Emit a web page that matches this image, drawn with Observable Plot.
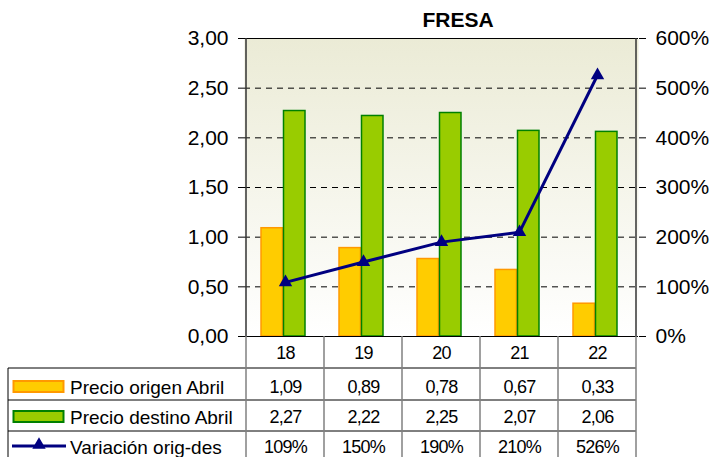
<!DOCTYPE html>
<html>
<head>
<meta charset="utf-8">
<script src="https://cdn.jsdelivr.net/npm/d3@7"></script>
<script src="https://cdn.jsdelivr.net/npm/@observablehq/plot@0.6"></script>
<style>
  html, body { margin: 0; padding: 0; background: white; }
  #chart { width: 713px; height: 457px; overflow: hidden; }
</style>
</head>
<body>
<div id="chart"></div>
<script>
const title = "FRESA";
const categories = ["18", "19", "20", "21", "22"];
const precioOrigen = [1.09, 0.89, 0.78, 0.67, 0.33];
const precioDestino = [2.27, 2.22, 2.25, 2.07, 2.06];
const variacion = [109, 150, 190, 210, 526];
const leftTicks = [0, 0.5, 1, 1.5, 2, 2.5, 3];
const rightTickLabels = [0, 100, 200, 300, 400, 500, 600];
const seriesNames = ["Precio origen Abril", "Precio destino Abril", "Variación orig-des"];

const data = categories.map((c, i) => ({cat: c, origen: precioOrigen[i], destino: precioDestino[i], variacion: variacion[i]}));
const fmt2 = v => d3.format(".2f")(v).replace(".", ",");
const pctToY = p => p / 200;

const FONT = "'Liberation Sans', Arial, sans-serif";
const orangeFill = "#FFCC00", orangeStroke = "#FF9900";
const greenFill = "#99CC00", greenStroke = "#008000";
const navy = "#000080";

const plot = Plot.plot({
  width: 713,
  height: 457,
  marginTop: 38,
  marginBottom: 121,
  marginLeft: 244,
  marginRight: 75,
  x: {domain: categories, padding: 0, axis: null},
  y: {domain: [0, 3], axis: null},
  style: {fontFamily: FONT, fontSize: "21px", background: "white", overflow: "visible", color: "black"},
  marks: [
    Plot.frame({fill: "url(#bgGrad)", stroke: null}),
    Plot.ruleY(leftTicks.filter(t => t > 0 && t < 3), {stroke: "black", strokeWidth: 1, strokeDasharray: "6,5"}),
    Plot.ruleY([3], {stroke: "black", strokeWidth: 1}),
    Plot.barY(data, {x: "cat", y: "origen", fill: orangeFill, stroke: orangeStroke, strokeWidth: 1.5, insetLeft: 15, insetRight: 41.5}),
    Plot.barY(data, {x: "cat", y: "destino", fill: greenFill, stroke: greenStroke, strokeWidth: 1.5, insetLeft: 37.5, insetRight: 19}),
    Plot.ruleY([0], {stroke: "black", strokeWidth: 1}),
    Plot.line(data, {x: "cat", y: d => pctToY(d.variacion), stroke: navy, strokeWidth: 3}),
    Plot.dot(data, {x: "cat", y: d => pctToY(d.variacion), symbol: "triangle", fill: navy, stroke: null, r: 5}),
    Plot.axisY(leftTicks, {anchor: "left", tickSize: 6, tickPadding: 10, tickFormat: fmt2, fontSize: 21}),
    Plot.axisY(rightTickLabels.map(pctToY), {anchor: "right", tickSize: 7, tickPadding: 10, tickFormat: d => Math.round(d * 200) + "%", fontSize: 21}),
    // table: category header row and value rows
    Plot.text(data, {x: "cat", y: 0, text: "cat", dy: 17, fontSize: 18, fontFamily: FONT, fill: "black"}),
    Plot.text(data, {x: "cat", y: 0, text: d => fmt2(d.origen), dy: 51, fontSize: 18, fontFamily: FONT, fill: "black"}),
    Plot.text(data, {x: "cat", y: 0, text: d => fmt2(d.destino), dy: 81, fontSize: 18, fontFamily: FONT, fill: "black"}),
    Plot.text(data, {x: "cat", y: 0, text: d => d.variacion + "%", dy: 111, fontSize: 18, fontFamily: FONT, fill: "black"})
  ]
});

document.getElementById("chart").appendChild(plot);

const svg = d3.select(plot);
const defs = svg.insert("defs", ":first-child");
const grad = defs.append("linearGradient").attr("id", "bgGrad").attr("x1", 0).attr("y1", 0).attr("x2", 0).attr("y2", 1);
grad.append("stop").attr("offset", "0%").attr("stop-color", "#EBEBD6");
grad.append("stop").attr("offset", "100%").attr("stop-color", "#FFFFFF");

svg.selectAll("g[aria-label='text'] text").attr("letter-spacing", "-0.8");

const xs = plot.scale("x");
const ys = plot.scale("y");
const bw = xs.bandwidth;
const x0 = xs.apply(categories[0]);
const xEnd = xs.apply(categories[categories.length - 1]) + bw;
const yTop = ys.apply(3);
const yBase = ys.apply(0);
const H = 457;

const g = svg.append("g").attr("aria-label", "table").attr("text-anchor", "start");
// axis lines
g.append("line").attr("x1", x0).attr("x2", x0).attr("y1", yTop).attr("y2", yBase).attr("stroke", "#333").attr("stroke-width", 1.5);
g.append("line").attr("x1", xEnd).attr("x2", xEnd).attr("y1", yTop).attr("y2", yBase).attr("stroke", "#333").attr("stroke-width", 1.5);
// table horizontal lines
[32, 64, 95].forEach(off => {
  g.append("line").attr("x1", 8).attr("x2", xEnd).attr("y1", yBase + off).attr("y2", yBase + off).attr("stroke", "black").attr("stroke-width", 1);
});
// column separators
categories.forEach(c => {
  const xx = xs.apply(c);
  g.append("line").attr("x1", xx).attr("x2", xx).attr("y1", yBase).attr("y2", H).attr("stroke", "#808080").attr("stroke-width", 1.5);
});
g.append("line").attr("x1", xEnd).attr("x2", xEnd).attr("y1", yBase).attr("y2", H).attr("stroke", "#808080").attr("stroke-width", 1.5);
g.append("line").attr("x1", 8).attr("x2", 8).attr("y1", yBase + 32).attr("y2", H).attr("stroke", "black").attr("stroke-width", 1);

// legend keys
const rowCenters = [yBase + 51, yBase + 81, yBase + 111];
g.append("rect").attr("x", 13.5).attr("y", rowCenters[0] - 6).attr("width", 50).attr("height", 11).attr("fill", orangeFill).attr("stroke", orangeStroke).attr("stroke-width", 2);
g.append("rect").attr("x", 13.5).attr("y", rowCenters[1] - 6).attr("width", 50).attr("height", 11).attr("fill", greenFill).attr("stroke", greenStroke).attr("stroke-width", 2);
g.append("line").attr("x1", 12).attr("x2", 66).attr("y1", rowCenters[2] - 1).attr("y2", rowCenters[2] - 1).attr("stroke", navy).attr("stroke-width", 3);
g.append("path").attr("d", d3.symbol(d3.symbolTriangle, 78)()).attr("transform", `translate(39,${rowCenters[2] - 2})`).attr("fill", navy);
seriesNames.forEach((name, i) => {
  g.append("text").attr("x", 70).attr("y", rowCenters[i]).attr("dy", "0.35em").attr("text-anchor", "start")
    .attr("font-family", FONT).attr("font-size", 19).attr("fill", "black").text(name);
});

// title
svg.append("text").attr("x", 458).attr("y", 27).attr("text-anchor", "middle")
  .attr("font-family", FONT).attr("font-size", 21).attr("font-weight", "bold").attr("fill", "black").text(title);
</script>
</body>
</html>
